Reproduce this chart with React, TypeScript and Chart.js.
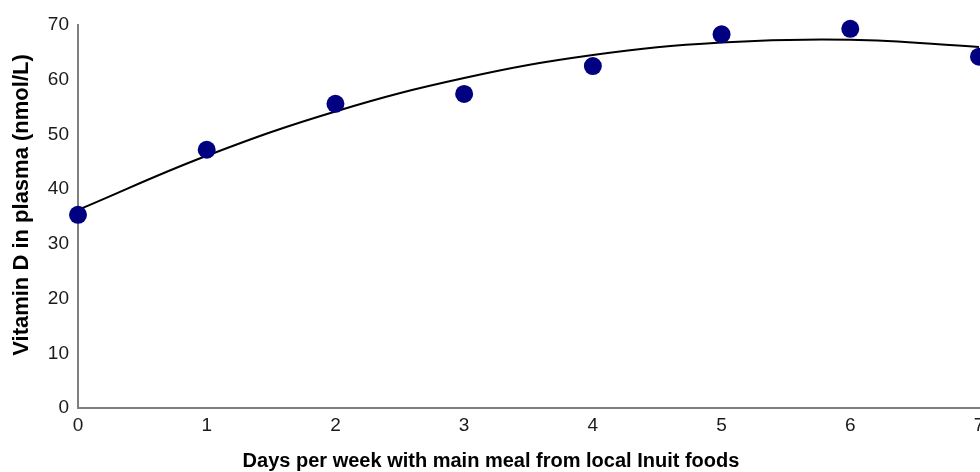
import React, { useEffect, useRef } from "react";
import { Chart, registerables } from "chart.js";

Chart.register(...registerables);

const days = [0, 1, 2, 3, 4, 5, 6, 7];
const vitaminD = [35.3, 47.2, 55.6, 57.4, 62.5, 68.3, 69.3, 64.2];
const trendValues = [36.2, 46.1, 54.2, 60.3, 64.5, 66.8, 67.3, 66.0];
const yTicks = [0, 10, 20, 30, 40, 50, 60, 70];
const xTitle = "Days per week with main meal from local Inuit foods";
const yTitle = "Vitamin D in plasma (nmol/L)";

const FONT = "'Liberation Sans', Arial, sans-serif";

const titlePlugin = {
  id: "axisTitles",
  afterDraw(chart: any) {
    const ctx = chart.ctx as CanvasRenderingContext2D;
    ctx.save();
    ctx.fillStyle = "#000";
    ctx.textAlign = "center";
    ctx.textBaseline = "middle";
    ctx.font = `bold 20px ${FONT}`;
    ctx.fillText(xTitle, 491, 461);
    ctx.translate(22, 205);
    ctx.rotate(-Math.PI / 2);
    ctx.font = `bold 22px ${FONT}`;
    ctx.fillText(yTitle, 0, 0);
    ctx.restore();
  },
};

export default function App() {
  const ref = useRef<HTMLCanvasElement | null>(null);
  useEffect(() => {
    if (!ref.current) return;
    const chart = new Chart(ref.current, {
      type: "scatter",
      data: {
        datasets: [
          {
            label: "Measured",
            data: days.map((d, i) => ({ x: d, y: vitaminD[i] })),
            backgroundColor: "#000080",
            borderColor: "#000080",
            borderWidth: 0,
            pointRadius: 9,
            pointHoverRadius: 9,
            clip: false as any,
            order: 0,
          },
          {
            label: "Trend",
            data: days.map((d, i) => ({ x: d, y: trendValues[i] })),
            showLine: true,
            tension: 0.4,
            borderColor: "#000000",
            borderWidth: 2,
            pointRadius: 0,
            order: 1,
          } as any,
        ],
      },
      options: {
        responsive: false,
        animation: false,
        devicePixelRatio: 1,
        layout: { padding: { top: 25, right: 21, left: 0, bottom: 0 } },
        plugins: { legend: { display: false }, tooltip: { enabled: false } },
        scales: {
          x: {
            type: "linear",
            min: 0,
            max: 7,
            grid: { display: false, drawTicks: false },
            border: { display: true, color: "#7f7f7f", width: 2 },
            afterBuildTicks: (s: any) => {
              s.ticks = days.map((v) => ({ value: v }));
            },
            ticks: {
              color: "#1a1a1a",
              font: { family: FONT, size: 19 },
              padding: 6,
              maxRotation: 0,
            },
            afterFit: (s: any) => {
              s.height = 64;
            },
          },
          y: {
            min: 0,
            max: 70,
            grid: { display: false, drawTicks: false },
            border: { display: true, color: "#7f7f7f", width: 2 },
            afterBuildTicks: (s: any) => {
              s.ticks = yTicks.map((v) => ({ value: v }));
            },
            ticks: {
              color: "#1a1a1a",
              font: { family: FONT, size: 19 },
              padding: 9,
            },
            afterFit: (s: any) => {
              s.width = 78;
            },
          },
        },
      },
      plugins: [titlePlugin],
    });
    return () => chart.destroy();
  }, []);
  return (
    <div
      style={{
        position: "fixed",
        left: 0,
        top: 0,
        width: 980,
        height: 472,
        overflow: "hidden",
        background: "#fff",
      }}
    >
      <canvas ref={ref} width={1000} height={472} style={{ display: "block" }} />
    </div>
  );
}
